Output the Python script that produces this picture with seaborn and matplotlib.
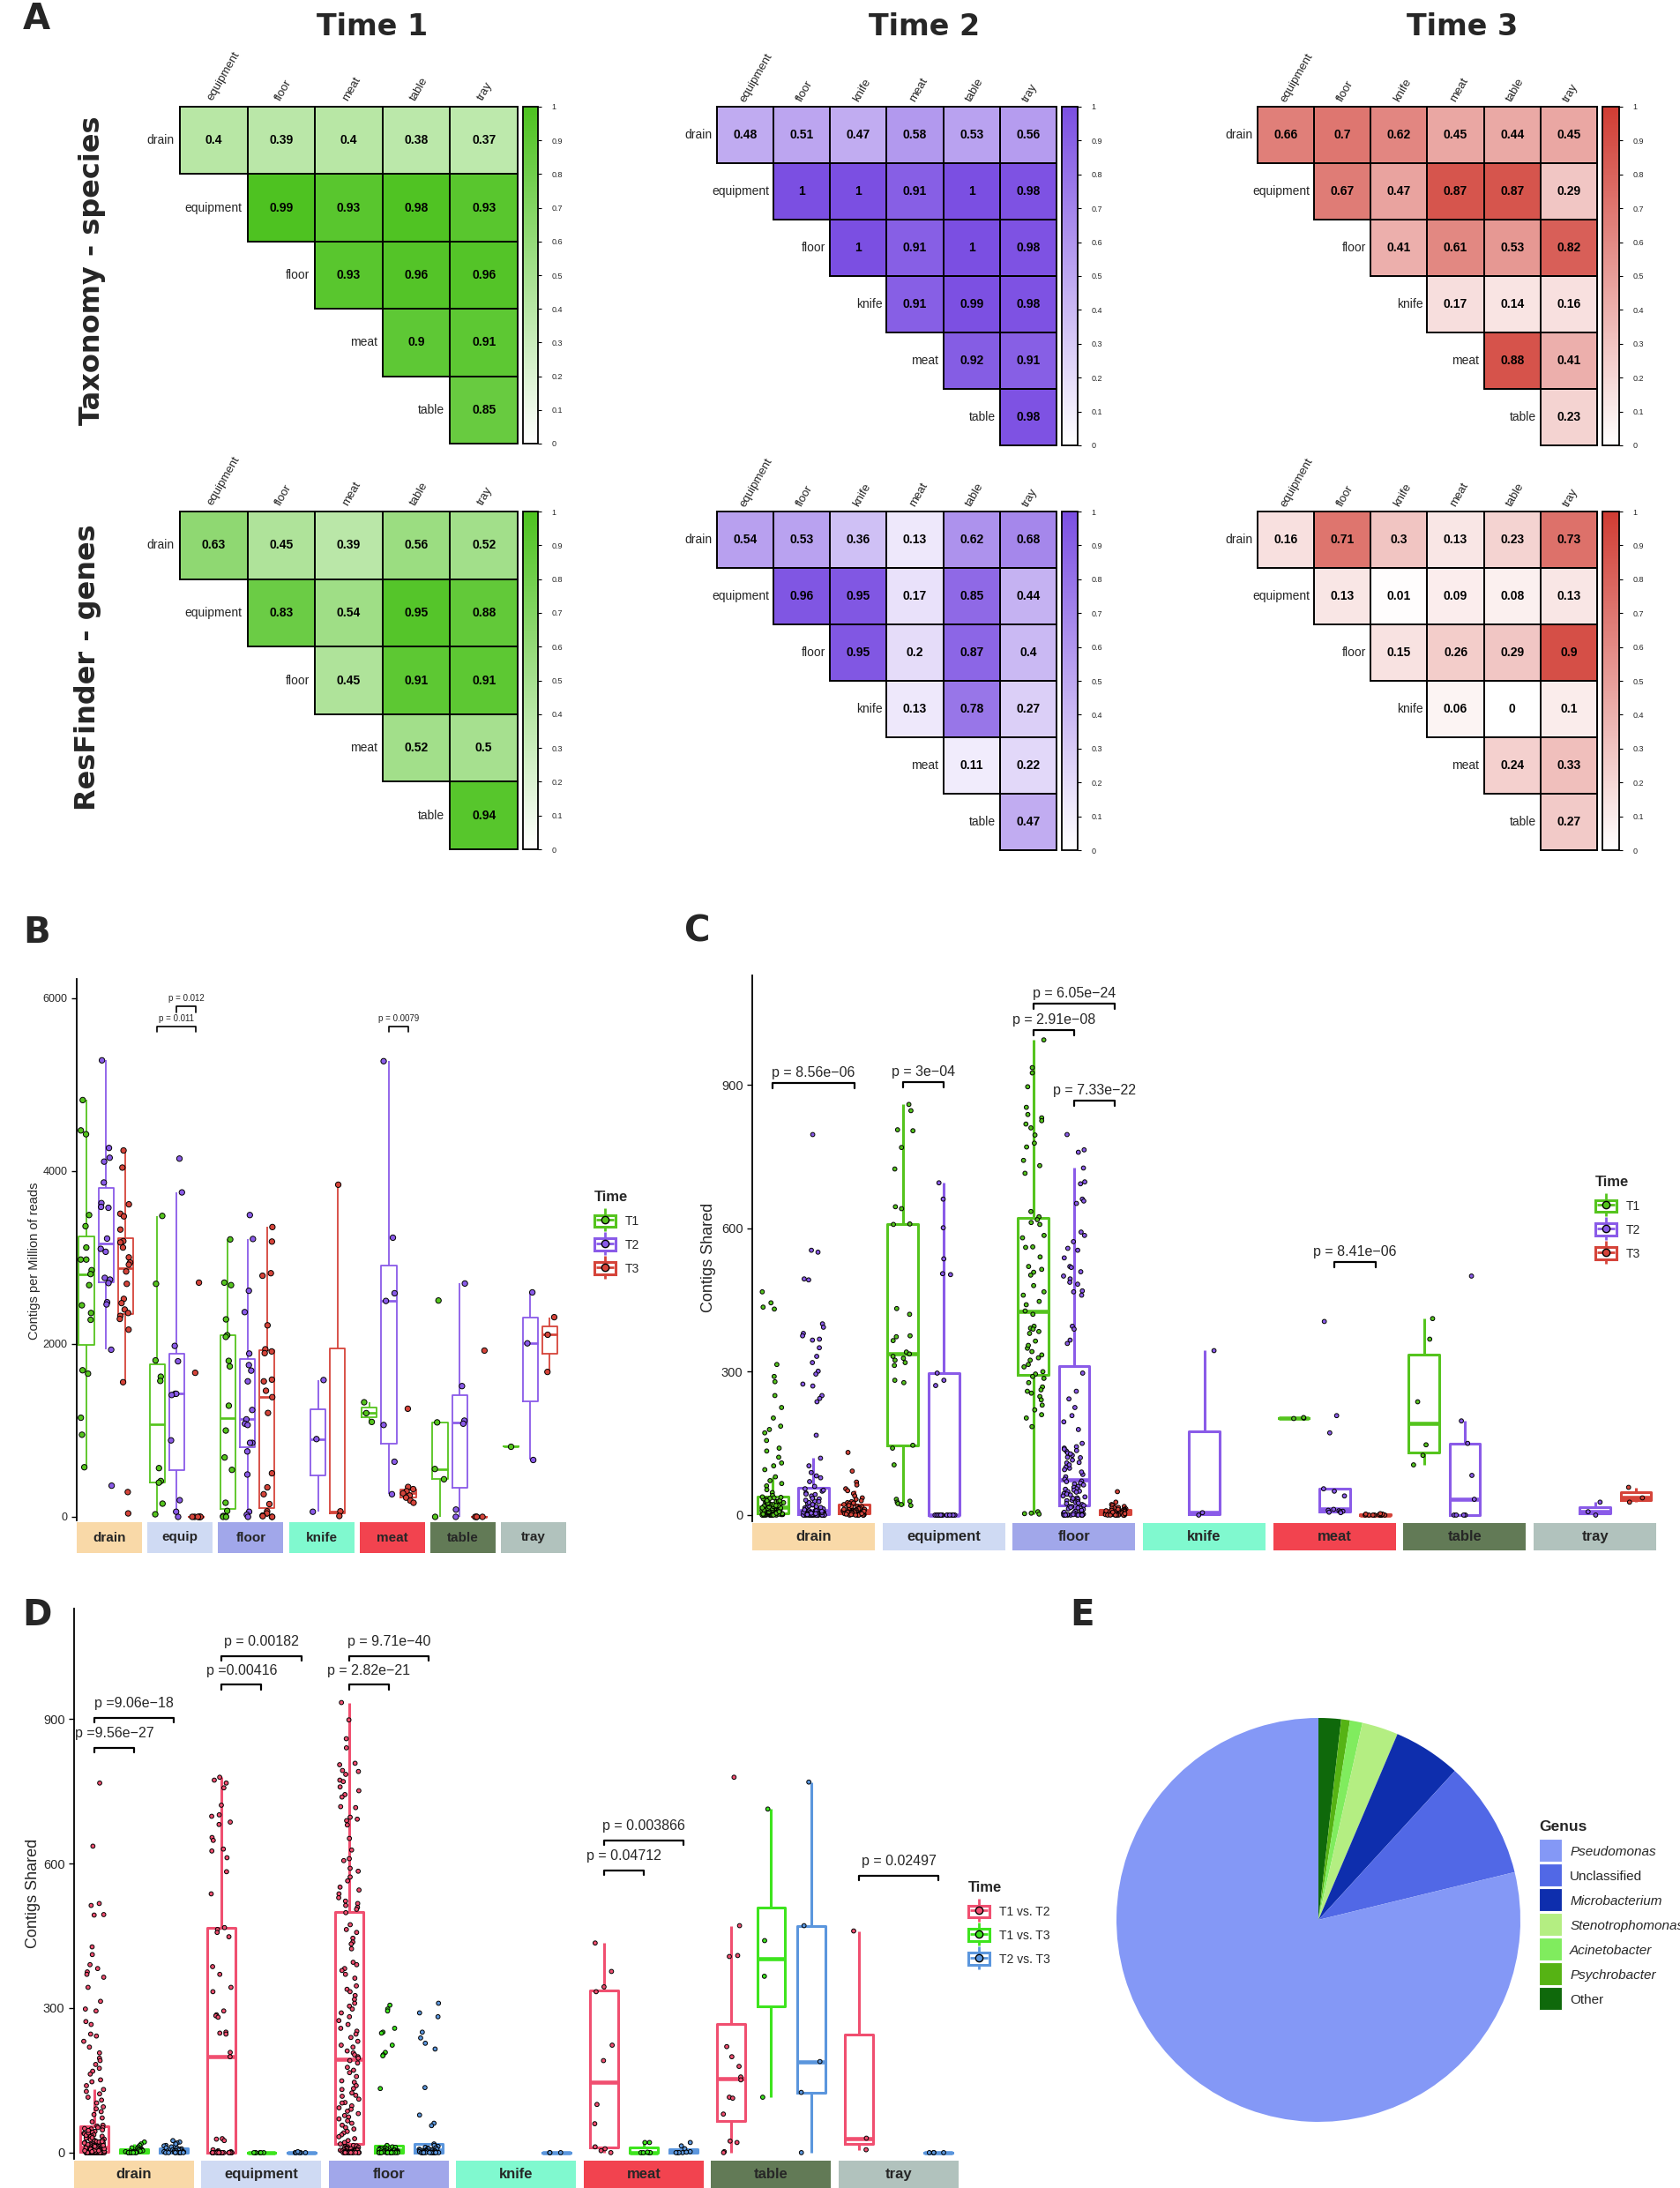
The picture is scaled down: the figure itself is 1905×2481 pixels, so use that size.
import numpy as np
import pandas as pd
import seaborn as sns
import matplotlib.pyplot as plt
from matplotlib.colors import LinearSegmentedColormap
from matplotlib.lines import Line2D
from matplotlib.patches import Patch, Rectangle
from matplotlib.legend_handler import HandlerTuple

np.random.seed(11)

# ---------- panel A: pairwise similarity (upper triangle, row by row) ----------
sites_t1 = ['drain', 'equipment', 'floor', 'meat', 'table', 'tray']
sites_t23 = ['drain', 'equipment', 'floor', 'knife', 'meat', 'table', 'tray']

species_t1 = [[0.4, 0.39, 0.4, 0.38, 0.37], [0.99, 0.93, 0.98, 0.93],
              [0.93, 0.96, 0.96], [0.9, 0.91], [0.85]]
species_t2 = [[0.48, 0.51, 0.47, 0.58, 0.53, 0.56], [1, 1, 0.91, 1, 0.98],
              [1, 0.91, 1, 0.98], [0.91, 0.99, 0.98], [0.92, 0.91], [0.98]]
species_t3 = [[0.66, 0.7, 0.62, 0.45, 0.44, 0.45], [0.67, 0.47, 0.87, 0.87, 0.29],
              [0.41, 0.61, 0.53, 0.82], [0.17, 0.14, 0.16], [0.88, 0.41], [0.23]]
genes_t1 = [[0.63, 0.45, 0.39, 0.56, 0.52], [0.83, 0.54, 0.95, 0.88],
            [0.45, 0.91, 0.91], [0.52, 0.5], [0.94]]
genes_t2 = [[0.54, 0.53, 0.36, 0.13, 0.62, 0.68], [0.96, 0.95, 0.17, 0.85, 0.44],
            [0.95, 0.2, 0.87, 0.4], [0.13, 0.78, 0.27], [0.11, 0.22], [0.47]]
genes_t3 = [[0.16, 0.71, 0.3, 0.13, 0.23, 0.73], [0.13, 0.01, 0.09, 0.08, 0.13],
            [0.15, 0.26, 0.29, 0.9], [0.06, 0, 0.1], [0.24, 0.33], [0.27]]

# ---------- panel B: contigs per million of reads ----------
b_sites = ['drain', 'equipment', 'floor', 'knife', 'meat', 'table', 'tray']
b_strips = ['drain', 'equip', 'floor', 'knife', 'meat', 'table', 'tray']
b_drain = {'T1': [4822, 4471, 4427, 3492, 3363, 3116, 2977, 2977, 2854, 2809, 2681, 2448, 2359,
                  2280, 1696, 1657, 1147, 950, 574],
           'T2': [5282, 4268, 4155, 4110, 3868, 3630, 3586, 3576, 3220, 3101, 3067, 2765, 2745,
                  2705, 2483, 2458, 1934, 361],
           'T3': [4239, 4041, 3616, 3507, 3477, 3324, 3190, 3175, 3116, 3002, 2943, 2918, 2839,
                  2696, 2522, 2473, 2399, 2359, 2325, 2290, 2166, 1558, 287, 40]}
b_equip = {'T1': [3482, 2696, 1810, 1622, 1573, 564, 415, 396, 153, 30],
           'T2': [4145, 3754, 1978, 1800, 1424, 1424, 1410, 885, 193, 59, 0],
           'T3': [2710, 1667, 0, 0, 0, 0, 0, 0, 0]}
b_floor = {'T1': [3210, 2710, 2681, 2285, 2102, 2082, 1805, 1741, 1286, 999, 687, 544, 163, 69,
                  10, 5, 0, 0],
           'T2': [3492, 3215, 2616, 2369, 1889, 1756, 1692, 1568, 1237, 1128, 1078, 1063, 856,
                  856, 757, 490, 59, 25, 0],
           'T3': [3353, 3185, 2819, 2790, 2216, 1939, 1914, 1894, 1588, 1568, 1459, 1385, 1202,
                  504, 341, 262, 148, 64, 40, 15, 8, 0, 0]}
b_knife = {'T2': [1583, 900, 59], 'T3': [3843, 64, 10]}
b_meat = {'T1': [1326, 1200, 1098],
          'T2': [5272, 3230, 2587, 2498, 1063, 638, 262],
          'T3': [1251, 346, 321, 297, 272, 247, 222, 188, 163]}
b_table = {'T1': [2503, 1093, 554, 435, 0], 'T2': [2700, 1513, 1113, 1078, 84, 0],
           'T3': [1924, 0, 0, 0, 0]}
b_tray = {'T1': [811], 'T2': [2597, 2008, 658], 'T3': [2310, 2107, 1677]}

# ---------- panel C: contigs shared by time ----------
c_sites = b_sites
c_drain = {'T1': [467, 444, 435, 431, 315, 290, 279, 250, 225, 203, 186, 179, 172, 156, 140, 134,
                  121, 109, 103, 95, 80, 72, 66, 61, 53, 47, 41,
                  0, 0, 0, 0, 0, 0, 0, 0, 0, 1, 1, 1, 2, 2, 2, 3, 3, 3, 4, 4, 5, 5, 5, 6, 6, 7, 7,
                  8, 8, 9, 9, 10, 10, 11, 12, 12, 13, 14, 14, 15, 16, 17, 18, 18, 19, 20, 21, 22,
                  23, 24, 25, 26, 27, 28, 28, 29, 30, 31, 33, 34, 35, 36, 37, 38, 2, 4, 6, 9, 11,
                  15, 20, 25, 30, 3, 0, 0, 1, 2, 4, 7],
           'T2': [796, 554, 550, 494, 492, 400, 393, 380, 375, 368, 366, 350, 332, 319, 301, 295,
                  274, 270, 250, 244, 237, 167, 119, 103, 89, 82, 78, 70,
                  0, 0, 0, 0, 0, 0, 0, 0, 0, 0, 0, 0, 1, 1, 1, 1, 2, 2, 2, 2, 3, 3, 3, 4, 4, 4, 5,
                  5, 5, 6, 6, 7, 7, 8, 9, 10, 11, 12, 14, 15, 17, 19, 21, 24, 26, 29, 31, 34, 37,
                  40, 43, 46, 50, 55, 60, 3, 2, 1, 0, 0, 6, 9, 13, 18,
                  0, 0, 0, 0, 0, 1, 1, 2, 2, 3, 4, 5, 6, 8, 11, 16, 22, 28, 35, 44, 52, 0, 1, 3],
           'T3': [131, 92, 69, 63, 55, 51, 45, 40, 36, 33, 30, 28, 26, 24, 22, 20, 18, 17, 16, 15,
                  14, 13, 12, 11, 10, 10, 9, 8, 8, 7, 6, 6, 5, 5, 4, 4, 3, 3, 2, 2, 1, 1, 0, 0, 0,
                  0, 0, 0, 12, 15, 18, 20, 25, 8, 6, 4, 3, 2, 1, 0]}
c_equip = {'T1': [859, 846, 806, 804, 769, 724, 645, 641, 609, 608, 432, 420, 375, 373, 365, 341,
                  337, 332, 328, 324, 319, 313, 282, 277, 146, 140, 105, 33, 29, 27, 24, 22, 20],
           'T2': [695, 661, 601, 536, 505, 503, 297, 282, 271, 0, 0, 0, 0, 0, 0, 0, 0, 0, 0, 0,
                  0, 0, 0, 0, 0]}
c_floor = {'T1': [994, 936, 925, 896, 853, 838, 831, 825, 818, 810, 795, 778, 770, 742, 731, 715,
                  635, 624, 618, 612, 608, 585, 561, 514, 508, 502, 467, 447, 427, 395, 391, 389,
                  384, 380, 364, 349, 342, 335, 329, 324, 315, 295, 290, 286, 277, 268, 259, 248,
                  241, 203, 185, 7, 4, 3, 2, 420, 440, 460, 480, 520, 540, 560, 580, 230, 255,
                  262, 220, 210, 300, 310, 355],
           'T2': [796, 764, 759, 726, 697, 693, 661, 657, 652, 592, 585, 572, 558, 554, 538, 520,
                  518, 509, 500, 494, 487, 483, 469, 467, 460, 395, 389, 366, 359,
                  297, 259, 243, 225, 208, 195, 179, 150, 143, 134, 125, 121, 109, 98, 85, 71, 67,
                  63, 54, 49, 45, 40, 36, 31, 27, 22, 18, 13, 9, 4, 2, 0, 0, 0, 0, 0,
                  140, 138, 135, 130, 128, 120, 115, 110, 105, 100, 95, 90, 80, 75, 70, 65, 60,
                  58, 55, 52, 50, 48, 44, 42, 38, 35, 33, 30, 28, 25, 24, 20, 18, 16, 15, 12, 10,
                  8, 6, 5, 3, 2, 1, 1, 0, 0, 0, 0, 0, 0, 0],
           'T3': [49, 27, 22, 20, 18, 16, 15, 14, 13, 12, 11, 10, 10, 9, 8, 8, 7, 6, 6, 5, 5, 4,
                  4, 3, 3, 2, 2, 1, 1, 0, 0, 0, 0, 0, 0, 0, 0, 0, 12, 9, 6, 3]}
c_knife = {'T2': [344, 5, 0]}
c_meat = {'T1': [203, 202, 204],
          'T2': [405, 208, 172, 55, 50, 40, 12, 10, 9, 8, 7, 6, 5],
          'T3': [0, 0, 0, 0, 0, 0, 0, 0, 1, 2, 3, 2]}
c_table = {'T1': [411, 368, 237, 147, 125, 105], 'T2': [500, 197, 150, 83, 33, 0, 0, 0, 0]}
c_tray = {'T2': [27, 7, 0], 'T3': [58, 36, 27]}

# ---------- panel D: contigs shared between time pairs ----------
d_levels = ['T1 vs. T2', 'T1 vs. T3', 'T2 vs. T3']
d_drain = {'T1 vs. T2': [767, 636, 517, 513, 494, 493, 427, 411, 390, 382, 375, 370, 364, 343,
                         314, 298, 294, 272, 266, 246, 242, 231, 219, 207, 196, 191, 183, 175,
                         169, 163, 151, 147, 139, 131, 127, 122, 115, 109, 103, 95, 91, 85, 79,
                         72, 64,
                         57, 55, 52, 50, 49, 47, 45, 44, 42, 40, 39, 37, 35, 34, 33, 31, 30, 29,
                         28, 26, 25, 24, 23, 22, 21, 20, 19, 18, 17, 16, 15, 14, 14, 13, 12, 12,
                         11, 10, 10, 9, 9, 8, 8, 7, 7, 6, 6, 6, 5, 5, 5, 4, 4, 4, 3, 3, 3, 3, 2,
                         2, 2, 2, 1, 1, 1, 1, 1, 0, 0, 0, 0, 0, 0, 0, 0, 0, 0, 0, 0, 0, 0, 0, 0,
                         0, 0, 0, 0, 0, 0, 0, 0, 0, 0, 0, 0, 0, 0, 0, 0, 0,
                         0, 0, 0, 0, 0, 0, 0, 0, 0, 0, 1, 1, 1, 2, 2, 3, 3, 4, 5, 6, 7, 8, 10,
                         11, 13, 15, 17, 20, 23, 27, 31, 36, 41, 46, 52, 0, 0, 1, 2, 4],
           'T1 vs. T3': [22, 18, 15, 12, 10, 9, 8, 7, 6, 5, 5, 4, 3, 3, 2, 2, 1, 1, 0, 0, 0, 0,
                         0, 0, 0],
           'T2 vs. T3': [25, 22, 20, 18, 15, 14, 12, 10, 9, 8, 7, 6, 5, 5, 4, 3, 3, 2, 2, 1, 1,
                         0, 0, 0, 0, 0, 0, 0, 0, 0]}
d_equip = {'T1 vs. T2': [779, 773, 767, 757, 721, 701, 698, 686, 681, 654, 648, 630, 626, 612,
                         583, 537, 467, 463, 457, 448, 386, 370, 343, 334, 294, 286, 284, 281,
                         250, 248, 246, 208, 199, 29, 28, 25, 6, 4, 2, 2, 0, 0, 0, 0, 0, 0, 0,
                         0, 0, 0, 0, 0, 0, 0, 0, 0, 0, 0, 0, 0, 0, 0, 0, 0, 0],
           'T1 vs. T3': [0, 0, 0, 0, 0, 0],
           'T2 vs. T3': [0, 0, 0, 0, 0, 2]}
d_floor = {'T1 vs. T2': [934, 898, 859, 840, 808, 805, 793, 791, 785, 773, 770, 759, 751, 743,
                         738, 718, 716, 696, 692, 689, 680, 652, 628, 610, 606, 590, 584, 572,
                         564, 551, 545, 537, 529, 522, 517, 513, 509, 505,
                         498, 473, 463, 457, 445, 437, 433, 423, 395, 390, 382, 378, 370, 362,
                         346, 339, 334, 326, 318, 310, 304, 298, 290, 282, 274, 266, 258, 252,
                         246, 239, 231, 223, 219, 211, 207, 203, 199, 196,
                         191, 186, 177, 171, 166, 158, 149, 146, 139, 133, 131, 124, 119, 117,
                         111, 104, 103, 97, 93, 90, 86, 81, 77, 74, 70, 66, 61, 57, 52, 49, 44,
                         41, 37, 33, 29, 25, 21, 18,
                         15, 14, 13, 12, 11, 10, 10, 9, 8, 8, 7, 6, 6, 5, 5, 4, 4, 3, 3, 2, 2,
                         1, 1, 1, 0, 0, 0, 0, 0, 0, 0, 0, 0, 0, 0, 0, 0, 0],
           'T1 vs. T3': [306, 298, 294, 258, 250, 248, 223, 208, 203, 201, 133,
                         15, 12, 11, 10, 9, 8, 8, 7, 6, 6, 5, 5, 4, 4, 4, 3, 3, 2, 2, 2, 1, 1,
                         1, 0, 0, 0, 0, 0, 0, 0, 0, 0, 0, 0, 0],
           'T2 vs. T3': [310, 290, 282, 250, 238, 227, 215, 135, 78, 61, 56,
                         18, 15, 13, 11, 10, 9, 8, 7, 7, 6, 5, 5, 4, 4, 3, 3, 3, 2, 2, 1, 1, 1,
                         0, 0, 0, 0, 0, 0, 0, 0, 0, 0, 0, 0, 0]}
d_knife = {'T2 vs. T3': [0, 0, 0]}
d_meat = {'T1 vs. T2': [435, 376, 344, 334, 223, 191, 100, 60, 12, 8, 4, 0],
          'T1 vs. T3': [21, 21, 0, 0, 0, 0, 1],
          'T2 vs. T3': [21, 14, 8, 0, 0, 0, 0, 2, 1]}
d_table = {'T1 vs. T2': [779, 471, 409, 407, 220, 199, 179, 157, 151, 115, 113, 80, 24, 21, 2, 0],
           'T1 vs. T3': [713, 440, 366, 115],
           'T2 vs. T3': [769, 471, 189, 125, 0]}
d_tray = {'T1 vs. T2': [460, 30, 6], 'T2 vs. T3': [0, 0, 0, 0]}

# ---------- panel E: genus share ----------
genus = ['Pseudomonas', 'Unclassified', 'Microbacterium', 'Stenotrophomonas',
         'Acinetobacter', 'Psychrobacter', 'Other']
genus_pct = [78.8, 9.4, 5.4, 2.9, 1.0, 0.7, 1.8]
genus_colors = ['#8498F6', '#5168E6', '#0E2EAD', '#B4EE82', '#80EC5E', '#56B314', '#0F690B']

strip_colors = ['#F9D9A8', '#CFDAF3', '#A1A7EA', '#80F9CF', '#F2434F', '#627A56', '#B1C2BD']
time_pal = {'T1': '#55C41E', 'T2': '#8A5BE8', 'T3': '#D5443A'}
pair_pal = {'T1 vs. T2': '#F04F70', 'T1 vs. T3': '#3EE41E', 'T2 vs. T3': '#5B96DD'}

W, H = 1906, 2481
sns.set_theme(style='ticks')
plt.rcParams['font.family'] = ['Liberation Sans', 'DejaVu Sans']
fig = plt.figure(figsize=(W / 100, H / 100), dpi=100)


def px_ax(x0, y0, x1, y1):
    return fig.add_axes([x0 / W, 1 - y1 / H, (x1 - x0) / W, (y1 - y0) / H])


def tri_heatmap(tri, sites, color, x0, x1, cx0, cx1, y0, y1):
    n = len(sites) - 1
    mat = np.full((n, n), np.nan)
    for i, row in enumerate(tri):
        mat[i, i:] = row
    txt = np.array([['' if np.isnan(v) else f'{v:g}' for v in r] for r in mat])
    df = pd.DataFrame(mat, index=sites[:-1], columns=sites[1:])
    cmap = LinearSegmentedColormap.from_list('c', ['white', color])
    ax = px_ax(x0, y0, x1, y1)
    cax = px_ax(cx0, y0, cx1, y1)
    sns.heatmap(df, mask=np.isnan(mat), cmap=cmap, vmin=0, vmax=1, annot=txt, fmt='',
                annot_kws={'fontsize': 10, 'fontweight': 'bold', 'color': 'black'},
                linewidths=0, cbar_ax=cax, xticklabels=False, yticklabels=False, ax=ax)
    for i in range(n):
        for j in range(i, n):
            ax.add_patch(Rectangle((j, i), 1, 1, fill=False, edgecolor='black', lw=1.4,
                                   clip_on=False, zorder=3))
    for i, s in enumerate(sites[:-1]):
        ax.text(i - 0.08, i + 0.5, s, ha='right', va='center', fontsize=10)
    for j, s in enumerate(sites[1:]):
        ax.text(j + 0.45, -0.1, s, rotation=60, rotation_mode='anchor',
                ha='left', va='center', fontsize=9.5)
    cb = ax.collections[0].colorbar
    cb.set_ticks(np.round(np.arange(0, 1.01, 0.1), 1))
    cb.set_ticklabels(['0'] + [f'{v:.1f}' for v in np.arange(0.1, 0.95, 0.1)] + ['1'])
    cb.outline.set_edgecolor('black')
    cb.outline.set_linewidth(1.3)
    cax.tick_params(labelsize=6.5, length=3, width=0.8, color='black', pad=8)


tri_heatmap(species_t1, sites_t1, '#4DC21F', 204, 587, 593, 610, 121, 503)
tri_heatmap(species_t2, sites_t23, '#7B4FE2', 813, 1198, 1204, 1222, 121, 505)
tri_heatmap(species_t3, sites_t23, '#D03C33', 1426, 1811, 1817, 1836, 121, 505)
tri_heatmap(genes_t1, sites_t1, '#4DC21F', 204, 587, 593, 610, 580, 963)
tri_heatmap(genes_t2, sites_t23, '#7B4FE2', 813, 1198, 1204, 1222, 580, 964)
tri_heatmap(genes_t3, sites_t23, '#D03C33', 1426, 1811, 1817, 1836, 580, 964)

bold_dv = {'fontweight': 'bold', 'family': 'DejaVu Sans'}
for x, t in [(422, 'Time 1'), (1048, 'Time 2'), (1658, 'Time 3')]:
    fig.text(x / W, 1 - 31 / H, t, ha='center', va='center', fontsize=24, **bold_dv)
fig.text(105 / W, 1 - 307 / H, 'Taxonomy - species', rotation=90, ha='center', va='center',
         fontsize=23, **bold_dv)
fig.text(100 / W, 1 - 757 / H, 'ResFinder - genes', rotation=90, ha='center', va='center',
         fontsize=23, **bold_dv)
for x, y, t in [(26, 22, 'A'), (26, 1058, 'B'), (776, 1057, 'C'), (25, 1832, 'D'), (1213, 1832, 'E')]:
    fig.text(x / W, 1 - y / H, t, ha='left', va='center', fontsize=29, **bold_dv)


def to_long(dicts, sites):
    rows = []
    for s, d in zip(sites, dicts):
        for t, vals in d.items():
            rows += [(s, t, v) for v in vals]
    return pd.DataFrame(rows, columns=['site', 'Time', 'value'])


def facet_panel(df, sites, strips, levels, pal, x0, pitch, w, y0, y1, s0, s1, ylim, yticks,
                xmax, bw, lw, pt, jit, tick_fs, strip_fs):
    axes = {}
    for k, site in enumerate(sites):
        left = x0 + k * pitch
        ax = px_ax(left, y0, left + w, y1)
        sub = df[df['site'] == site]
        sns.boxplot(data=sub, x='Time', y='value', hue='Time', order=levels, hue_order=levels,
                    palette=pal, fill=False, width=bw, linewidth=lw, showfliers=False,
                    showcaps=False, medianprops={'linewidth': lw * 1.5}, legend=False, ax=ax)
        sns.stripplot(data=sub, x='Time', y='value', hue='Time', order=levels, hue_order=levels,
                      palette=pal, jitter=jit, size=pt, edgecolor='black', linewidth=0.7,
                      legend=False, zorder=3, ax=ax)
        ax.set_xlim(-0.5, xmax)
        ax.set_ylim(*ylim)
        ax.set(xlabel='', ylabel='', xticks=[])
        for sp in ['top', 'right', 'bottom']:
            ax.spines[sp].set_visible(False)
        if k == 0:
            ax.set_yticks(yticks)
            ax.tick_params(axis='y', labelsize=tick_fs, length=4, width=1, color='black')
            ax.spines['left'].set_linewidth(1.3)
            ax.spines['left'].set_color('black')
        else:
            ax.set_yticks([])
            ax.spines['left'].set_visible(False)
        sax = px_ax(left, s0, left + w, s1)
        sax.set_facecolor(strip_colors[k])
        sax.set_xticks([])
        sax.set_yticks([])
        for sp in sax.spines.values():
            sp.set_visible(False)
        sax.text(0.5, 0.5, strips[k], ha='center', va='center', fontsize=strip_fs,
                 fontweight='bold', transform=sax.transAxes)
        axes[site] = ax
    return axes


def bracket(ax, a, b, y, text, tick, pad, fs, lw=1.2):
    ax.plot([a, a, b, b], [y - tick, y, y, y - tick], color='black', lw=lw, clip_on=False)
    ax.text((a + b) / 2, y + pad, text, ha='center', va='bottom', fontsize=fs, clip_on=False)


def box_handles(pal, levels):
    hs = []
    for lv in levels:
        c = pal[lv]
        hs.append((Line2D([], [], color=c, marker='|', markersize=19, markeredgewidth=2, ls='none'),
                   Patch(facecolor='white', edgecolor=c, linewidth=2.2),
                   Line2D([], [], color=c, marker='_', markersize=15, markeredgewidth=2, ls='none'),
                   Line2D([], [], marker='o', markerfacecolor=c, markeredgecolor='black',
                          markersize=6, ls='none')))
    return hs


def time_legend(pal, levels, x, y):
    fig.legend(box_handles(pal, levels), levels, title='Time', loc='upper left',
               bbox_to_anchor=(x / W, 1 - y / H), frameon=False, fontsize=10,
               title_fontproperties={'weight': 'bold', 'size': 12},
               handler_map={tuple: HandlerTuple(ndivide=1)}, handlelength=1.7,
               handleheight=1.1, labelspacing=0.9, handletextpad=0.8, alignment='left',
               borderpad=0, borderaxespad=0)


# ---------- B ----------
levels = ['T1', 'T2', 'T3']
df_b = to_long([b_drain, b_equip, b_floor, b_knife, b_meat, b_table, b_tray], b_sites)
ax_b = facet_panel(df_b, b_sites, b_strips, levels, time_pal, 87, 80.2, 74, 1110, 1724, 1726, 1761,
                   (-41, 6224), [0, 2000, 4000, 6000], 2.85, 0.78, 1.3, 4.5, 0.3, 9, 11)
fig.text(39 / W, 1 - 1430 / H, 'Contigs per Million of reads', rotation=90, ha='center',
         va='center', fontsize=10.5)
bracket(ax_b['equipment'], 0, 2, 5678, 'p = 0.011', 70, 40, 7)
bracket(ax_b['equipment'], 1, 2, 5910, 'p = 0.012', 70, 40, 7)
bracket(ax_b['meat'], 1, 2, 5678, 'p = 0.0079', 70, 40, 7)
time_legend(time_pal, levels, 674, 1350)

# ---------- C ----------
df_c = to_long([c_drain, c_equip, c_floor, c_knife, c_meat, c_table, c_tray], c_sites)
ax_c = facet_panel(df_c, c_sites, c_sites, levels, time_pal, 853, 147.7, 139, 1106, 1725, 1727,
                   1758, (-13, 1129), [0, 300, 600, 900], 2.5, 0.75, 2.2, 3.4, 0.27, 10.5, 12)
fig.text(804 / W, 1 - 1426 / H, 'Contigs Shared', rotation=90, ha='center', va='center',
         fontsize=13)
bracket(ax_c['drain'], 0, 2, 903, 'p = 8.56e\u221206', 11, 8, 11.5, 1.6)
bracket(ax_c['equipment'], 0, 1, 905, 'p = 3e\u221204', 11, 8, 11.5, 1.6)
bracket(ax_c['floor'], 0, 1, 1014, 'p = 2.91e\u221208', 11, 8, 11.5, 1.6)
bracket(ax_c['floor'], 0, 2, 1070, 'p = 6.05e\u221224', 11, 8, 11.5, 1.6)
bracket(ax_c['floor'], 1, 2, 867, 'p = 7.33e\u221222', 11, 8, 11.5, 1.6)
bracket(ax_c['meat'], 1, 2, 529, 'p = 8.41e\u221206', 11, 8, 11.5, 1.6)
time_legend(time_pal, levels, 1809, 1333)

# ---------- D ----------
df_d = to_long([d_drain, d_equip, d_floor, d_knife, d_meat, d_table, d_tray], b_sites)
ax_d = facet_panel(df_d, b_sites, b_sites, d_levels, pair_pal, 84, 144.5, 136, 1824, 2448, 2450,
                   2481, (-13, 1129), [0, 300, 600, 900], 2.5, 0.7, 2.2, 3.4, 0.26, 10.5, 12)
fig.text(38 / W, 1 - 2147 / H, 'Contigs Shared', rotation=90, ha='center', va='center',
         fontsize=13)
bracket(ax_d['drain'], 0, 1, 840, 'p =9.56e\u221227', 10, 16, 11.5, 1.6)
bracket(ax_d['drain'], 0, 2, 902, 'p =9.06e\u221218', 10, 16, 11.5, 1.6)
bracket(ax_d['equipment'], 0, 1, 971, 'p =0.00416', 10, 16, 11.5, 1.6)
bracket(ax_d['equipment'], 0, 2, 1031, 'p = 0.00182', 10, 16, 11.5, 1.6)
bracket(ax_d['floor'], 0, 1, 971, 'p = 2.82e\u221221', 10, 16, 11.5, 1.6)
bracket(ax_d['floor'], 0, 2, 1031, 'p = 9.71e\u221240', 10, 16, 11.5, 1.6)
bracket(ax_d['meat'], 0, 1, 586, 'p = 0.04712', 10, 16, 11.5, 1.6)
bracket(ax_d['meat'], 0, 2, 648, 'p = 0.003866', 10, 16, 11.5, 1.6)
bracket(ax_d['tray'], 0, 2, 575, 'p = 0.02497', 10, 16, 11.5, 1.6)
time_legend(pair_pal, d_levels, 1098, 2133)

# ---------- E ----------
ax_e = px_ax(1495 - 229, 2177 - 229, 1495 + 229, 2177 + 229)
ax_e.pie(genus_pct[::-1], colors=genus_colors[::-1], startangle=90, counterclock=False,
         wedgeprops={'linewidth': 0})
ax_e.set_xlim(-1, 1)
ax_e.set_ylim(-1, 1)
genus_keys = [Line2D([], [], marker='s', markersize=19, markerfacecolor=c, markeredgecolor='white',
                     markeredgewidth=0.8, ls='none') for c in genus_colors]
leg = fig.legend(genus_keys, genus, title='Genus', loc='upper left',
                 bbox_to_anchor=(1745 / W, 1 - 2064 / H), frameon=False, fontsize=11,
                 handlelength=1.7, handleheight=1.0, labelspacing=0.85, handletextpad=0.6,
                 title_fontproperties={'weight': 'bold', 'size': 12.5}, alignment='left',
                 borderpad=0, borderaxespad=0)
for t, g in zip(leg.get_texts(), genus):
    if g not in ('Unclassified', 'Other'):
        t.set_style('italic')

fig.savefig('out.png', dpi=100)
